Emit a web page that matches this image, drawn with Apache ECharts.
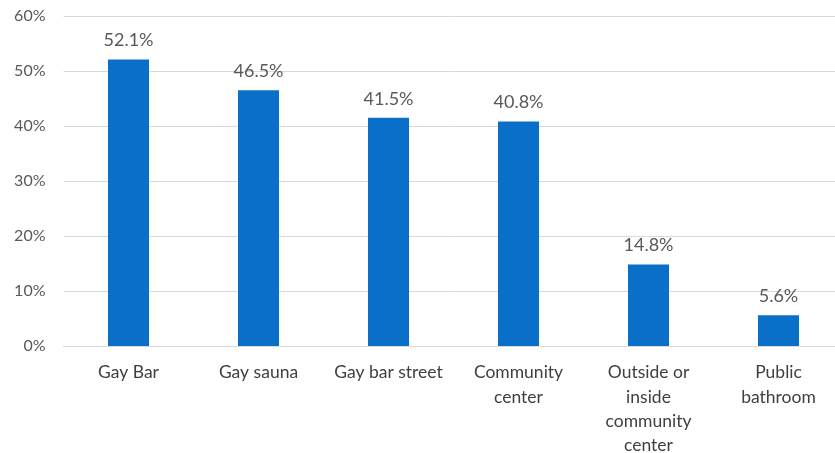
<!DOCTYPE html>
<html>
<head>
<meta charset="utf-8">
<script src="https://cdn.jsdelivr.net/npm/echarts@6/dist/echarts.min.js"></script>
<style>html,body{margin:0;padding:0;background:#fff}#c{width:835px;height:453px}</style>
</head>
<body>
<div id="c"></div>
<script>
var categories = ["Gay Bar", "Gay sauna", "Gay bar street", "Community\ncenter", "Outside or\ninside\ncommunity\ncenter", "Public\nbathroom"];
var values = [52.1, 46.5, 41.5, 40.8, 14.8, 5.6];
var yTicks = [0, 10, 20, 30, 40, 50, 60];

var chart = echarts.init(document.getElementById('c'));
chart.setOption({
  animation: false,
  textStyle: { fontFamily: 'Lato' },
  grid: { left: 63.5, right: -8.5, top: 16, bottom: 107, containLabel: false, outerBoundsMode: 'none' },
  xAxis: {
    type: 'category',
    data: categories,
    axisLine: { lineStyle: { color: '#d9d9d9', width: 1 } },
    axisTick: { show: false },
    axisLabel: { color: '#404040', fontSize: 17.5, lineHeight: 24.3, margin: 14.5, interval: 0, fontFamily: 'Lato' }
  },
  yAxis: {
    type: 'value',
    min: yTicks[0],
    max: yTicks[yTicks.length - 1],
    interval: 10,
    axisLine: { show: false },
    axisTick: { show: false },
    splitLine: { lineStyle: { color: '#d9d9d9', width: 1 } },
    axisLabel: { color: '#595959', fontSize: 16, margin: 18, formatter: function (v) { return v + '%'; }, fontFamily: 'Lato' }
  },
  series: [{
    type: 'bar',
    data: values,
    barWidth: 41,
    itemStyle: { color: '#0A6FC9' },
    label: { show: true, position: 'top', distance: 10, color: '#595959', fontSize: 18, fontFamily: 'Lato', formatter: function (p) { return p.value.toFixed(1) + '%'; } }
  }]
});
</script>
</body>
</html>
